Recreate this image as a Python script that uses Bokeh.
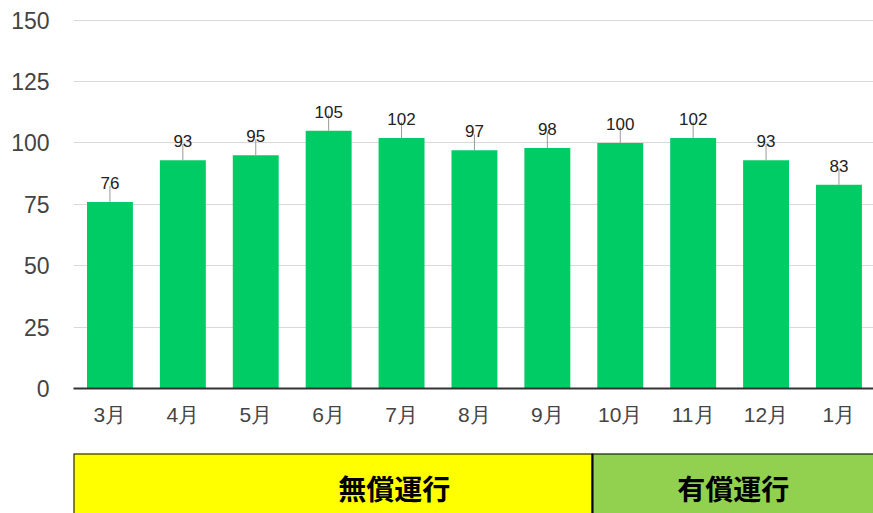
from bokeh.plotting import figure
from bokeh.models import Range1d, ColumnDataSource, FixedTicker
from bokeh.layouts import column
from bokeh.core.properties import value
from bokeh.embed import file_html
from bokeh.resources import INLINE
import math

# ---- data ----
months = ["3月", "4月", "5月", "6月", "7月", "8月", "9月", "10月", "11月", "12月", "1月"]
counts = [76, 93, 95, 105, 102, 97, 98, 100, 102, 93, 83]
y_ticks = [0, 25, 50, 75, 100, 125, 150]
band_labels = ["無償運行", "有償運行"]
band_colors = ["#FFFF00", "#92D050"]
band_start = [-0.5, 6.62]
band_end = [6.62, 11.5]
band_label_x = [3.9, 8.55]

xs = list(range(len(months)))

W = 873
LEFT = 73
frame_w = W - LEFT
x_range = Range1d(-0.5, -0.5 + frame_w / 72.9)

p = figure(width=W, height=453, x_range=x_range, y_range=Range1d(0, 150.3),
           output_backend="svg", toolbar_location=None,
           min_border_left=LEFT, min_border_right=0, min_border_top=19, min_border_bottom=65)
p.outline_line_color = None
p.background_fill_color = "white"
p.border_fill_color = "white"

src = ColumnDataSource(dict(x=xs, top=counts, label=[str(c) for c in counts]))
p.vbar(x="x", top="top", bottom=0, width=0.63, source=src,
       fill_color="#00CC66", line_color=None)
p.ray(x="x", y="top", length=16, length_units="screen", angle=math.pi / 2,
      source=src, line_color="#999999", line_width=1)
p.text(x="x", y="top", text="label", source=src, y_offset=-19,
       text_align="center", text_baseline="alphabetic",
       text_font=value("Liberation Sans"), text_font_size="17px", text_color="#222222")

# axes
p.yaxis.ticker = FixedTicker(ticks=y_ticks)
p.yaxis.axis_line_color = None
p.yaxis.major_tick_line_color = None
p.yaxis.minor_tick_line_color = None
p.yaxis.major_tick_in = 0
p.yaxis.major_tick_out = 0
p.yaxis.major_label_standoff = 24
p.yaxis.major_label_text_font = "Liberation Sans"
p.yaxis.major_label_text_font_size = "23px"
p.yaxis.major_label_text_color = "#444444"

p.xaxis.ticker = FixedTicker(ticks=xs)
p.xaxis.major_label_overrides = {i: m for i, m in enumerate(months)}
p.xaxis.axis_line_color = "#333333"
p.xaxis.axis_line_width = 2
p.xaxis.major_tick_line_color = None
p.xaxis.minor_tick_line_color = None
p.xaxis.major_tick_in = 0
p.xaxis.major_tick_out = 0
p.xaxis.major_label_standoff = 14
p.xaxis.major_label_text_font = "Liberation Sans"
p.xaxis.major_label_text_font_size = "21px"
p.xaxis.major_label_text_color = "#444444"

p.xgrid.grid_line_color = None
p.ygrid.grid_line_color = "#d9d9d9"
p.ygrid.grid_line_width = 1

# band figure
b = figure(width=W, height=60, x_range=x_range, y_range=Range1d(0, 1),
           output_backend="svg", toolbar_location=None,
           min_border_left=LEFT, min_border_right=0, min_border_top=0, min_border_bottom=0)
b.axis.visible = False
b.grid.visible = False
b.outline_line_color = None
b.background_fill_color = "white"
b.border_fill_color = "white"
bsrc = ColumnDataSource(dict(left=band_start, right=band_end, color=band_colors,
                             label=band_labels, lx=band_label_x, ly=[0.42, 0.42]))
b.quad(left="left", right="right", bottom=-1, top=1, fill_color="color",
       line_color="black", line_width=2, source=bsrc)
b.text(x="lx", y="ly", text="label", source=bsrc, text_align="center",
       text_baseline="middle", text_font=value("Noto Sans CJK JP"),
       text_font_style="bold", text_font_size="28px", text_color="black")

layout = column(p, b, spacing=0)
open("out.html", "w").write(file_html(layout, INLINE))
